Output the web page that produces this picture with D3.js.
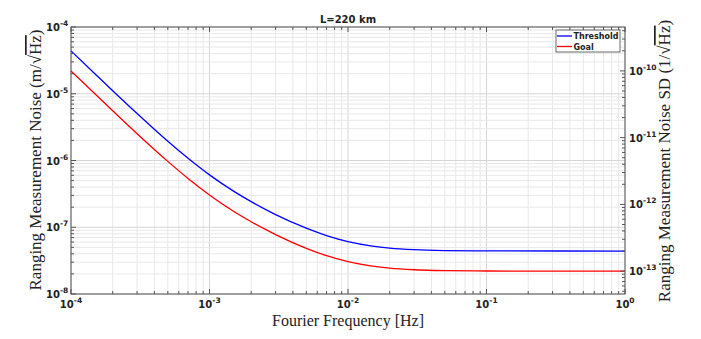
<!DOCTYPE html>
<html>
<head>
<meta charset="utf-8">
<script src="https://cdn.jsdelivr.net/npm/d3@7"></script>
<style>
  html, body { margin: 0; padding: 0; background: #fff; }
  svg { display: block; }
  .tick-label { font-family: "DejaVu Sans", sans-serif; font-weight: bold; font-size: 10px; fill: #222; }
  .axis-title { font-family: "Liberation Serif", "DejaVu Serif", serif; font-size: 17px; fill: #222; }
</style>
</head>
<body>
<svg id="chart" width="701" height="339"></svg>
<script>
// Arm length used for the right-hand (fractional) axis
const armLengthM = 220e3;
const titleText = "L=220 km";

// Fourier frequencies [Hz]
const freqs = [1e-4, 1.5e-4, 2e-4, 3e-4, 5e-4, 7e-4, 1e-3, 1.5e-3, 2e-3, 3e-3,
               5e-3, 7e-3, 1e-2, 1.5e-2, 2e-2, 3e-2, 5e-2, 1e-1, 1];

// Ranging measurement noise ASD [m/sqrt(Hz)]
const thresholdNoise = [4.39e-5, 1.96e-5, 1.11e-5, 5.05e-6, 1.94e-6, 1.08e-6, 6.09e-7,
                        3.45e-7, 2.42e-7, 1.55e-7, 9.7e-8, 7.52e-8, 6.11e-8, 5.23e-8,
                        4.88e-8, 4.62e-8, 4.48e-8, 4.42e-8, 4.4e-8];
const goalNoise = [2.19e-5, 9.8e-6, 5.56e-6, 2.52e-6, 9.7e-7, 5.39e-7, 3.05e-7,
                   1.72e-7, 1.21e-7, 7.77e-8, 4.84e-8, 3.76e-8, 3.06e-8, 2.62e-8,
                   2.44e-8, 2.31e-8, 2.24e-8, 2.21e-8, 2.2e-8];

const seriesNames = ["Threshold", "Goal"];
const seriesColors = ["#0000ff", "#ff0000"];

const svg = d3.select("#chart");
const plot = { left: 71, right: 625, top: 27, bottom: 294 };

const x = d3.scaleLog().domain([1e-4, 1]).range([plot.left, plot.right]);
const y = d3.scaleLog().domain([1e-8, 1e-4]).range([plot.bottom, plot.top]);
const yRight = d3.scaleLog()
  .domain([1e-8 / armLengthM, 1e-4 / armLengthM])
  .range([plot.bottom, plot.top]);

const isDecade = v => Math.abs(Math.log10(v) - Math.round(Math.log10(v))) < 1e-6;
const xTicks = x.ticks();
const yTicks = y.ticks();
const yRightTicks = yRight.ticks();

// grid
const grid = svg.append("g");
xTicks.forEach(t => {
  grid.append("line")
    .attr("x1", x(t)).attr("x2", x(t))
    .attr("y1", plot.top).attr("y2", plot.bottom)
    .attr("stroke", isDecade(t) ? "#d6d6d6" : "#e8e8e8")
    .attr("stroke-width", 1);
});
yTicks.forEach(t => {
  grid.append("line")
    .attr("x1", plot.left).attr("x2", plot.right)
    .attr("y1", y(t)).attr("y2", y(t))
    .attr("stroke", isDecade(t) ? "#d6d6d6" : "#e8e8e8")
    .attr("stroke-width", 1);
});

// curves
const line = d3.line()
  .x(d => x(d[0]))
  .y(d => y(d[1]))
  .curve(d3.curveMonotoneX);

[thresholdNoise, goalNoise].forEach((vals, i) => {
  svg.append("path")
    .datum(freqs.map((f, j) => [f, vals[j]]))
    .attr("fill", "none")
    .attr("stroke", seriesColors[i])
    .attr("stroke-width", 1.3)
    .attr("d", line);
});

// frame
const axisColor = "#555";
svg.append("rect")
  .attr("x", plot.left).attr("y", plot.top)
  .attr("width", plot.right - plot.left).attr("height", plot.bottom - plot.top)
  .attr("fill", "none").attr("stroke", axisColor).attr("stroke-width", 1);

// inward ticks
const ticks = svg.append("g").attr("stroke", axisColor).attr("stroke-width", 1);
xTicks.forEach(t => {
  const len = isDecade(t) ? 5 : 3;
  ticks.append("line").attr("x1", x(t)).attr("x2", x(t))
    .attr("y1", plot.bottom).attr("y2", plot.bottom - len);
  ticks.append("line").attr("x1", x(t)).attr("x2", x(t))
    .attr("y1", plot.top).attr("y2", plot.top + len);
});
yTicks.forEach(t => {
  const len = isDecade(t) ? 5 : 3;
  ticks.append("line").attr("x1", plot.left).attr("x2", plot.left + len)
    .attr("y1", y(t)).attr("y2", y(t));
});
yRightTicks.forEach(t => {
  const len = isDecade(t) ? 5 : 3;
  ticks.append("line").attr("x1", plot.right).attr("x2", plot.right - len)
    .attr("y1", yRight(t)).attr("y2", yRight(t));
});

// power-of-ten labels
function powerLabel(g, v, px, py, anchor) {
  const e = Math.round(Math.log10(v));
  const t = g.append("text").attr("class", "tick-label")
    .attr("x", px).attr("y", py).attr("text-anchor", anchor);
  t.append("tspan").text("10");
  t.append("tspan").attr("dy", -5).attr("font-size", "7.5px").text(String(e).replace("\u2212", "-"));
  return t;
}
const labels = svg.append("g");
xTicks.filter(isDecade).forEach(t => powerLabel(labels, t, x(t), 308, "middle"));
yTicks.filter(isDecade).forEach(t => powerLabel(labels, t, 46, y(t) + 4, "start"));
yRightTicks.filter(isDecade).forEach(t => powerLabel(labels, t, 629, yRight(t) + 4, "start"));

// title
svg.append("text")
  .attr("x", (plot.left + plot.right) / 2).attr("y", 23)
  .attr("text-anchor", "middle")
  .attr("font-family", "DejaVu Sans, sans-serif")
  .attr("font-weight", "bold").attr("font-size", "10px").attr("fill", "#222")
  .text(titleText);

// axis titles
svg.append("text").attr("class", "axis-title")
  .attr("x", (plot.left + plot.right) / 2).attr("y", 326)
  .attr("text-anchor", "middle")
  .style("font-size", "16px")
  .text("Fourier Frequency [Hz]");

function sqrtTitle(prefix, px, py) {
  const t = svg.append("text").attr("class", "axis-title")
    .attr("text-anchor", "middle")
    .attr("transform", `translate(${px},${py}) rotate(-90)`);
  t.append("tspan").text(prefix + "\u221A");
  t.append("tspan").style("text-decoration", "overline").text("Hz");
  t.append("tspan").text(")");
}
sqrtTitle("Ranging Measurement Noise (m/", 41, 160);
sqrtTitle("Ranging Measurement Noise SD (1/", 670, 161);

// legend
const legend = svg.append("g");
legend.append("rect")
  .attr("x", 556).attr("y", 30).attr("width", 64).attr("height", 22)
  .attr("fill", "#fff").attr("stroke", "#444").attr("stroke-width", 0.8);
seriesNames.forEach((name, i) => {
  const ly = 36 + i * 10.5;
  legend.append("line")
    .attr("x1", 557).attr("x2", 572).attr("y1", ly).attr("y2", ly)
    .attr("stroke", seriesColors[i]).attr("stroke-width", 1.3);
  legend.append("text")
    .attr("x", 573.5).attr("y", ly + 3)
    .attr("font-family", "DejaVu Sans, sans-serif")
    .attr("font-weight", "bold").attr("font-size", "8px").attr("fill", "#222")
    .text(name);
});
</script>
</body>
</html>
